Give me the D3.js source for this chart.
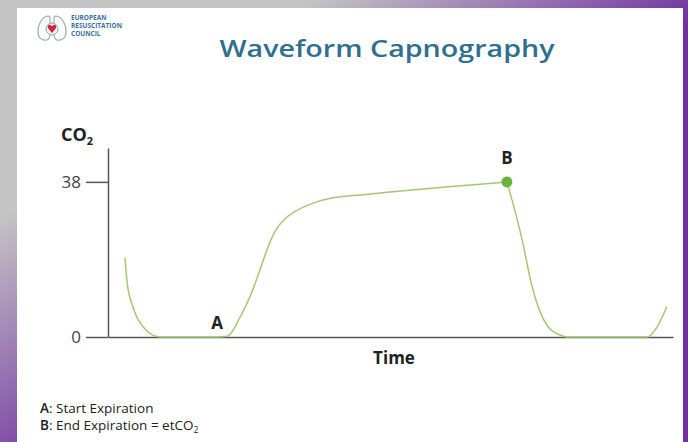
<!DOCTYPE html>
<html>
<head>
<meta charset="utf-8">
<script src="https://cdn.jsdelivr.net/npm/d3@7"></script>
<style>
  html, body { margin: 0; padding: 0; }
  body { width: 688px; height: 442px; overflow: hidden; }
  text { font-family: "Open Sans", "DejaVu Sans", sans-serif; }
</style>
</head>
<body>
<svg id="chart" width="688" height="442"></svg>
<script>
    // one breath cycle: [time, CO2]
    var wave = [
      [3.0, 19.4], [3.4, 13.2], [4.4, 7.4], [6.2, 2.5], [9.2, 0],
      [19.3, 0], [21.1, 0.2], [23.4, 4.9], [25.1, 9.8], [26.9, 16.4],
      [28.3, 22.0], [29.7, 26.2], [31.3, 28.9], [33.3, 30.9], [36.3, 32.8],
      [39.8, 34.1], [44.6, 34.8], [70.6, 38],
      [71.5, 33.6], [73.3, 23.8], [75.0, 12.7], [76.5, 6.1], [78.2, 2.0],
      [80.0, 0.5], [81.2, 0], [95.4, 0], [97.2, 2.5], [98.9, 7.4]
    ];
    var yTicks = [0, 38];
    var markers = [
      { name: 'A', t: 19.3, co2: 0 },
      { name: 'B', t: 70.6, co2: 38 }
    ];
    var notes = [
      { key: 'A', text: ': Start Expiration' },
      { key: 'B', text: ': End Expiration = etCO' }
    ];

    var svg = d3.select("#chart");

    // slide background
    var defs = svg.append("defs");
    var grad = defs.append("linearGradient")
      .attr("id", "bg")
      .attr("x1", 0.2).attr("y1", 0)
      .attr("x2", 0.75).attr("y2", 0.5);
    grad.append("stop").attr("offset", 0.25).attr("stop-color", "#c4c4c4");
    grad.append("stop").attr("offset", 0.85).attr("stop-color", "#7030a0");
    svg.append("rect").attr("width", 688).attr("height", 442).attr("fill", "url(#bg)");
    svg.append("rect").attr("x", 17).attr("y", 8).attr("width", 666).attr("height", 440).attr("fill", "#fff");

    // logo
    var logo = svg.append("g").attr("transform", "translate(52,28)");
    logo.append("path")
      .attr("d", "M-3,-12 C-10,-12 -14,-4 -14,4 C-14,10 -10,13 -5,12 C-2,11 -2,8 -2,5 L-2,-10 Z")
      .attr("fill", "none").attr("stroke", "#9ab0a8").attr("stroke-width", 1.2);
    logo.append("path")
      .attr("d", "M3,-12 C10,-12 14,-4 14,4 C14,10 10,13 5,12 C2,11 2,8 2,5 L2,-10 Z")
      .attr("fill", "none").attr("stroke", "#9ab0a8").attr("stroke-width", 1.2);
    logo.append("circle").attr("cx", 0).attr("cy", 1).attr("r", 6).attr("fill", "#e8f0f4").attr("stroke", "#7fb0c8");
    logo.append("path")
      .attr("d", "M0,5 L-4,0 C-5,-2 -3,-4 -1.5,-3 L0,-1.5 L1.5,-3 C3,-4 5,-2 4,0 Z")
      .attr("fill", "#d8202e");
    ["EUROPEAN", "RESUSCITATION", "COUNCIL"].forEach(function(s, i) {
      svg.append("text")
        .attr("x", 71).attr("y", 20 + i * 8)
        .attr("font-size", 6.5).attr("font-weight", 700)
        .attr("fill", "#3d6f9e")
        .text(s);
    });

    svg.append("text")
      .attr("x", 387).attr("y", 57)
      .attr("text-anchor", "middle")
      .attr("font-size", 24).attr("font-weight", 600)
      .attr("fill", "#2f6f8f")
      .attr("textLength", 335).attr("lengthAdjust", "spacingAndGlyphs")
      .text("Waveform Capnography");

    var x = d3.scaleLinear().domain([0, 100]).range([108, 673]);
    var y = d3.scaleLinear().domain([0, 46.3]).range([337, 148]);

    var xAxis = svg.append("g")
      .attr("transform", "translate(0," + y(0) + ")")
      .call(d3.axisBottom(x).tickValues([]).tickSizeOuter(0));
    var yAxis = svg.append("g")
      .attr("transform", "translate(" + x(0) + ",0)")
      .call(d3.axisLeft(y).tickValues(yTicks).tickSize(22).tickSizeOuter(0).tickPadding(5));
    svg.selectAll(".domain, .tick line").attr("stroke", "#555").attr("stroke-width", 1.5);
    yAxis.selectAll(".tick text")
      .attr("font-size", 17).attr("fill", "#444")
      .attr("font-family", "'Open Sans', sans-serif");

    var co2Label = svg.append("text")
      .attr("x", 61).attr("y", 141)
      .attr("font-size", 18).attr("font-weight", 700).attr("fill", "#222");
    co2Label.append("tspan").text("CO");
    co2Label.append("tspan").attr("font-size", 11).attr("dy", 4).text("2");

    svg.append("text")
      .attr("x", 394).attr("y", 364)
      .attr("text-anchor", "middle")
      .attr("font-size", 17).attr("font-weight", 700).attr("fill", "#222")
      .text("Time");

    // waveform, split at B so the peak keeps its corner
    var line = d3.line()
      .x(function(d) { return x(d[0]); })
      .y(function(d) { return y(d[1]); })
      .curve(d3.curveMonotoneX);
    var bIndex = wave.findIndex(function(d) { return d[0] === markers[1].t; });
    [wave.slice(0, bIndex + 1), wave.slice(bIndex)].forEach(function(part) {
      svg.append("path")
        .datum(part)
        .attr("d", line)
        .attr("fill", "none")
        .attr("stroke", "#a2c873")
        .attr("stroke-width", 1.5);
    });

    svg.append("circle")
      .attr("cx", x(markers[1].t)).attr("cy", y(markers[1].co2))
      .attr("r", 5.5).attr("fill", "#6cb33e");

    svg.selectAll(".marker")
      .data(markers)
      .enter().append("text")
      .attr("class", "marker")
      .attr("x", function(d) { return x(d.t); })
      .attr("y", function(d) { return d.name === 'A' ? y(d.co2) - 8 : y(d.co2) - 18; })
      .attr("text-anchor", "middle")
      .attr("font-size", 17).attr("font-weight", 700).attr("fill", "#222")
      .text(function(d) { return d.name; });

    notes.forEach(function(n, i) {
      var t = svg.append("text")
        .attr("x", 40).attr("y", 413 + i * 17)
        .attr("font-size", 13.5).attr("fill", "#222");
      t.append("tspan").attr("font-weight", 600).text(n.key);
      t.append("tspan").text(n.text);
      if (n.key === 'B') t.append("tspan").attr("font-size", 8.5).attr("dy", 3).text("2");
    });
</script>
</body>
</html>
